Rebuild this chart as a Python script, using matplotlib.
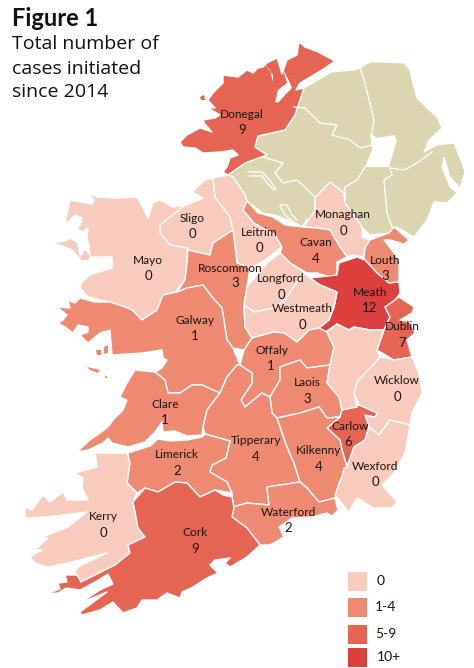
import matplotlib
matplotlib.use("Agg")
import matplotlib.pyplot as plt
from matplotlib.patches import Polygon, Rectangle

# values
counties = ["Donegal", "Sligo", "Mayo", "Leitrim", "Monaghan", "Cavan", "Louth", "Roscommon",
            "Longford", "Meath", "Westmeath", "Dublin", "Galway", "Offaly", "Laois", "Wicklow",
            "Clare", "Carlow", "Tipperary", "Kilkenny", "Wexford", "Limerick", "Waterford",
            "Kerry", "Cork", "Kildare"]
cases = [9, 0, 0, 0, 0, 4, 3, 3,
         0, 12, 0, 7, 1, 1, 3, 0,
         1, 6, 4, 4, 0, 2, 2,
         0, 9, 0]
legend_labels = ["0", "1-4", "5-9", "10+"]
band_colors = ["#f8cbbd", "#ee8a70", "#e56552", "#dc3f3c"]
ni_color = "#dcd5b0"

# county shapes, traced in image pixels
outlines = {
    "Donegal": [(299, 42), (305, 47), (318, 52), (335, 61), (325, 68), (312, 76), (300, 83), (296, 90), (304, 88),
                (295, 115), (285, 130), (258, 136), (255, 147), (267, 155), (245, 163), (228, 175), (223, 172),
                (227, 167), (230, 158), (238, 155), (233, 150), (220, 152), (203, 153), (195, 148), (183, 147),
                (180, 142), (187, 135), (200, 128), (212, 132), (205, 124), (203, 120), (215, 118), (220, 115),
                (208, 108), (215, 108), (208, 100), (213, 93), (223, 83), (223, 75), (238, 77), (247, 70), (253, 73),
                (258, 68), (263, 67), (267, 63), (277, 58), (282, 74), (287, 60), (297, 55)],
    "Mayo": [(88, 193), (98, 197), (117, 198), (137, 197), (143, 208), (148, 218), (153, 203), (160, 200), (173, 207),
             (185, 205), (160, 225), (160, 233), (170, 245), (187, 248), (187, 263), (185, 280), (175, 292),
             (163, 295), (157, 310), (142, 320), (132, 310), (125, 307), (110, 302), (88, 297), (80, 288), (82, 282),
             (90, 275), (112, 268), (112, 257), (90, 257), (89, 245), (87, 240), (88, 228), (82, 232), (77, 228),
             (80, 225), (82, 218), (75, 215), (68, 222), (65, 222), (68, 210), (70, 200), (80, 202), (92, 204),
             (94, 200)],
    "Sligo": [(157, 203), (172, 208), (187, 205), (203, 198), (192, 192), (205, 180), (213, 178), (215, 197),
              (230, 217), (233, 230), (213, 243), (210, 255), (193, 252), (187, 248), (170, 245), (160, 233)],
    "Leitrim": [(213, 178), (228, 175), (233, 177), (245, 195), (247, 201), (243, 210), (254, 223), (275, 235),
                (282, 247), (274, 253), (262, 262), (250, 268), (237, 263), (233, 230), (230, 217), (215, 197)],
    "Longford": [(280, 253), (267, 263), (247, 287), (244, 305), (254, 312), (274, 308), (285, 300), (295, 285),
                 (305, 273), (290, 263)],
    "Westmeath": [(305, 273), (310, 278), (320, 285), (337, 292), (334, 307), (329, 320), (319, 328), (309, 330),
                  (297, 342), (284, 333), (274, 332), (252, 338), (245, 327), (244, 305), (254, 312), (274, 308),
                  (285, 300), (295, 285)],
    "Cavan": [(243, 210), (247, 201), (258, 213), (273, 217), (285, 225), (303, 227), (317, 228), (330, 230),
              (340, 247), (347, 257), (337, 262), (337, 275), (330, 277), (317, 273), (307, 273), (290, 263),
              (280, 253), (282, 247), (275, 235), (254, 223)],
    "Monaghan": [(315, 198), (330, 182), (344, 193), (345, 203), (362, 227), (362, 237), (370, 240), (365, 248),
                 (364, 257), (352, 255), (347, 257), (340, 247), (330, 230), (317, 228), (303, 227), (310, 218),
                 (315, 210)],
    "Louth": [(370, 240), (389, 233), (394, 227), (409, 240), (404, 244), (390, 240), (384, 240), (394, 253),
              (399, 260), (399, 282), (389, 283), (377, 273), (365, 260), (364, 257), (365, 248)],
    "Meath": [(310, 278), (337, 275), (339, 263), (357, 257), (365, 260), (377, 273), (389, 283), (399, 282),
              (400, 293), (394, 302), (385, 307), (390, 317), (384, 330), (370, 330), (354, 327), (349, 330),
              (337, 324), (324, 333), (319, 328), (329, 320), (334, 307), (337, 292), (320, 285)],
    "Dublin": [(385, 307), (399, 297), (414, 307), (412, 313), (400, 320), (410, 322), (415, 333), (407, 340),
               (412, 357), (394, 360), (377, 350), (384, 330), (390, 317)],
    "Kildare": [(327, 332), (337, 324), (349, 330), (354, 327), (370, 330), (384, 330), (377, 350), (380, 357),
                (370, 368), (357, 382), (354, 393), (357, 407), (342, 410), (339, 397), (327, 383), (330, 365),
                (334, 347)],
    "Wicklow": [(380, 357), (394, 360), (412, 357), (419, 373), (422, 393), (412, 413), (410, 425), (390, 420),
                (379, 435), (369, 427), (365, 415), (375, 417), (377, 413), (359, 405), (354, 393), (357, 382),
                (370, 368)],
    "Wexford": [(369, 427), (379, 435), (390, 420), (410, 425), (405, 453), (394, 473), (382, 485), (397, 502),
                (392, 508), (374, 508), (357, 498), (349, 512), (335, 495), (342, 477), (344, 468), (347, 467),
                (354, 447), (365, 440)],
    "Carlow": [(342, 410), (359, 405), (377, 413), (375, 417), (365, 415), (369, 427), (365, 440), (354, 447),
               (347, 467), (342, 450), (340, 440), (327, 428), (340, 417)],
    "Kilkenny": [(340, 417), (327, 428), (340, 440), (342, 450), (347, 467), (339, 483), (335, 498), (319, 502),
                 (307, 488), (300, 482), (294, 463), (287, 447), (277, 418), (300, 413), (319, 407), (327, 418)],
    "Laois": [(280, 367), (300, 360), (307, 368), (330, 365), (327, 383), (339, 397), (342, 410), (340, 417),
              (327, 418), (319, 407), (300, 413), (277, 418), (272, 413), (270, 397), (280, 380)],
    "Offaly": [(244, 350), (252, 338), (274, 332), (284, 333), (297, 342), (309, 330), (319, 328), (327, 332),
               (334, 347), (330, 365), (307, 368), (300, 360), (280, 367), (280, 380), (270, 397), (262, 393),
               (245, 407), (241, 400), (252, 383), (252, 373), (240, 365)],
    "Roscommon": [(188, 250), (210, 255), (213, 243), (233, 230), (237, 263), (250, 268), (247, 287), (244, 305),
                  (245, 327), (252, 338), (244, 350), (233, 348), (227, 340), (222, 308), (212, 297), (203, 285),
                  (187, 288), (177, 292), (185, 280), (187, 263)],
    "Galway": [(68, 300), (75, 303), (80, 298), (95, 302), (110, 302), (125, 307), (132, 310), (142, 320), (157, 310),
               (163, 295), (177, 292), (187, 288), (203, 285), (212, 297), (222, 308), (227, 340), (233, 348),
               (240, 365), (237, 365), (227, 377), (220, 393), (202, 385), (192, 385), (180, 393), (168, 393),
               (165, 380), (155, 372), (162, 368), (167, 360), (163, 358), (162, 350), (142, 353), (112, 355),
               (110, 330), (100, 333), (88, 343), (80, 335), (88, 332), (88, 327), (78, 325), (73, 333), (65, 327),
               (58, 323), (63, 320), (67, 315), (57, 307), (70, 308)],
    "Clare": [(135, 370), (155, 372), (165, 380), (168, 393), (180, 393), (192, 385), (202, 385), (220, 393),
              (207, 410), (203, 427), (202, 435), (187, 436), (175, 431), (163, 432), (162, 422), (155, 432),
              (145, 442), (128, 447), (112, 443), (108, 438), (103, 443), (88, 450), (77, 452), (90, 440), (100, 433),
              (108, 427), (113, 420), (123, 410), (127, 400), (120, 397), (127, 383)],
    "Limerick": [(128, 453), (150, 446), (158, 439), (170, 441), (187, 440), (202, 437), (205, 434), (230, 441),
                 (226, 458), (212, 465), (210, 472), (227, 482), (232, 493), (215, 490), (200, 497), (187, 483),
                 (175, 482), (158, 492), (145, 488), (137, 493), (127, 483), (129, 463)],
    "Tipperary": [(207, 410), (220, 393), (227, 377), (237, 365), (240, 365), (252, 373), (252, 383), (241, 400),
                  (245, 407), (262, 393), (270, 397), (272, 413), (277, 418), (287, 447), (294, 463), (300, 482),
                  (267, 487), (269, 505), (247, 503), (233, 507), (232, 493), (227, 482), (210, 472), (212, 465),
                  (226, 458), (230, 441), (205, 434), (203, 427)],
    "Waterford": [(233, 507), (247, 503), (269, 505), (267, 487), (300, 482), (307, 488), (319, 502), (335, 498),
                  (338, 510), (332, 516), (327, 513), (312, 517), (292, 518), (279, 527), (284, 537), (270, 545),
                  (260, 545), (247, 528), (232, 517)],
    "Cork": [(133, 502), (145, 488), (158, 492), (175, 482), (187, 483), (200, 497), (215, 490), (223, 495),
             (232, 497), (234, 508), (232, 517), (247, 528), (260, 545), (247, 557), (230, 567), (225, 563),
             (230, 558), (215, 560), (210, 565), (218, 573), (207, 578), (193, 587), (182, 592), (180, 598),
             (167, 593), (157, 600), (142, 600), (137, 608), (123, 613), (113, 602), (100, 610), (82, 615),
             (80, 612), (107, 592), (80, 603), (100, 590), (113, 584), (108, 574), (97, 581), (80, 590), (66, 588),
             (58, 593), (46, 594), (60, 589), (58, 583), (67, 582), (65, 575), (77, 575), (81, 582), (103, 571),
             (115, 565), (130, 553), (128, 545), (145, 537), (138, 528), (135, 512)],
    "Kerry": [(95, 453), (127, 453), (130, 463), (127, 483), (137, 493), (133, 502), (135, 512), (138, 528),
              (145, 537), (128, 545), (130, 553), (115, 565), (103, 571), (81, 582), (75, 572), (78, 567), (107, 553),
              (68, 563), (48, 567), (35, 563), (30, 557), (42, 550), (28, 548), (38, 547), (48, 538), (40, 538),
              (68, 527), (87, 512), (47, 517), (25, 518), (25, 507), (32, 510), (43, 495), (50, 502), (63, 492),
              (67, 500), (88, 500), (82, 488), (83, 478), (75, 473), (97, 467)],
}
northern_ireland = [(304, 88), (332, 72), (354, 70), (360, 68), (370, 62), (384, 62), (404, 63),
                    (410, 70), (412, 80), (417, 98), (429, 110), (437, 117), (442, 128), (429, 140), (424, 152),
                    (437, 145), (454, 143), (462, 163), (465, 172), (460, 188), (450, 177), (444, 157), (442, 167),
                    (450, 187), (457, 193), (447, 203), (434, 202), (427, 220), (414, 237), (397, 227), (389, 233),
                    (370, 235), (362, 227), (345, 203), (344, 193), (330, 182), (315, 198), (315, 210), (310, 218),
                    (303, 227), (293, 222), (275, 215), (263, 213), (247, 201), (245, 195), (233, 177), (228, 175),
                    (245, 163), (267, 155), (255, 147), (258, 136), (285, 130), (295, 115)]
ni_borders = [
    [(360, 68), (365, 83), (374, 120), (372, 133)],
    [(294, 107), (305, 108), (320, 123), (337, 125), (332, 135), (350, 140), (360, 148), (372, 145)],
    [(365, 167), (357, 180), (345, 187), (345, 200)],
    [(263, 157), (283, 163), (275, 173), (283, 183), (297, 180), (315, 197)],
    [(390, 168), (392, 175), (384, 180), (387, 213), (392, 227)],
    [(390, 168), (404, 170), (417, 163), (432, 152)],
    [(248, 172), (262, 172), (270, 180), (276, 190)],
    [(250, 176), (262, 176), (268, 184), (274, 190)],
    [(280, 205), (287, 205), (292, 215), (297, 220)],
    [(280, 206), (285, 215), (293, 222)],
    [(303, 226), (307, 219)],
]
lakes = [
    [(370, 133), (377, 138), (394, 135), (397, 140), (389, 167), (365, 167), (372, 150)],
    [(282, 67), (290, 83), (292, 88), (285, 95), (278, 103), (275, 102), (278, 90), (287, 83)],
    [(265, 65), (273, 75), (273, 82), (270, 70)],
]
islands = [
    ("#e56552", [(200, 97), (204, 95), (205, 100), (201, 100)]),
    ("#f8cbbd", [(55, 243), (65, 242), (70, 239), (77, 243), (80, 258), (73, 250), (67, 247)]),
    ("#f8cbbd", [(80, 258), (85, 250), (90, 256), (88, 260), (81, 260)]),
    ("#ee8a70", [(96, 350), (101, 350), (101, 355), (97, 355)]),
    ("#ee8a70", [(104, 347), (108, 345), (108, 353), (104, 354)]),
    ("#ee8a70", [(87, 367), (100, 370), (98, 373), (90, 370)]),
    ("#ee8a70", [(105, 375), (108, 378), (105, 378)]),
]

# label anchor (x, y) of the county name, then of the number
name_at = {"Donegal": (242, 114), "Sligo": (192, 218), "Mayo": (148, 260), "Leitrim": (259, 232),
           "Monaghan": (343, 215), "Cavan": (316, 243), "Louth": (385, 260), "Roscommon": (230, 268),
           "Longford": (281, 279), "Meath": (370, 292), "Westmeath": (302, 309), "Dublin": (402, 327),
           "Galway": (195, 320), "Offaly": (272, 350), "Laois": (307, 383), "Wicklow": (397, 381),
           "Clare": (165, 404), "Carlow": (350, 426), "Tipperary": (256, 441), "Kilkenny": (319, 451),
           "Wexford": (375, 466), "Limerick": (177, 455), "Waterford": (288, 512), "Kerry": (103, 517),
           "Cork": (195, 533)}
value_at = {"Roscommon": (235, 283), "Carlow": (348, 442), "Offaly": (271, 366)}


def band(n):
    if n == 0:
        return 0
    if n < 5:
        return 1
    if n < 10:
        return 2
    return 3


fig = plt.figure(figsize=(4.74, 6.68), dpi=100)
ax = fig.add_axes([0, 0, 1, 1])
ax.set_xlim(0, 474)
ax.set_ylim(668, 0)
ax.axis("off")

narrow = ["Lato", "DejaVu Sans"]
wide = ["Open Sans", "DejaVu Sans"]

ax.add_patch(Polygon(northern_ireland, fc=ni_color, ec="white", lw=0.8))
for line in ni_borders:
    x, y = zip(*line)
    ax.plot(x, y, color="white", lw=1.0)

for name, n in zip(counties, cases):
    ax.add_patch(Polygon(outlines[name], fc=band_colors[band(n)], ec="white", lw=1.0, joinstyle="round"))

for lake in lakes:
    ax.add_patch(Polygon(lake, fc="white", ec="none"))
for color, shape in islands:
    ax.add_patch(Polygon(shape, fc=color, ec="none"))

for name, n in zip(counties, cases):
    if name not in name_at:
        continue
    x, y = name_at[name]
    vx, vy = value_at.get(name, (x, y + 16))
    ax.text(x, y, name, ha="center", va="center", fontsize=8.6, family=narrow, color="#1c1210")
    ax.text(vx, vy, str(n), ha="center", va="center", fontsize=9.5, family=narrow, color="#1c1210")

ax.text(12, 18, "Figure 1", ha="left", va="center", fontsize=17, fontweight="bold", family=narrow, color="#111111")
for y, line in zip([44, 69, 92], ["Total number of", "cases initiated", "since 2014"]):
    ax.text(12, y, line, ha="left", va="center", fontsize=14, family=wide, color="#111111")

swatch_y = [572, 598, 625, 648]
label_x = [381, 386, 386, 389]
for y, lx, color, label in zip(swatch_y, label_x, band_colors, legend_labels):
    ax.add_patch(Rectangle((348, y), 19, 19, fc=color, ec="none"))
    ax.text(lx, y + 9, label, ha="center", va="center", fontsize=10, family=narrow, color="#1c1210")

fig.savefig("out.png", dpi=100)
